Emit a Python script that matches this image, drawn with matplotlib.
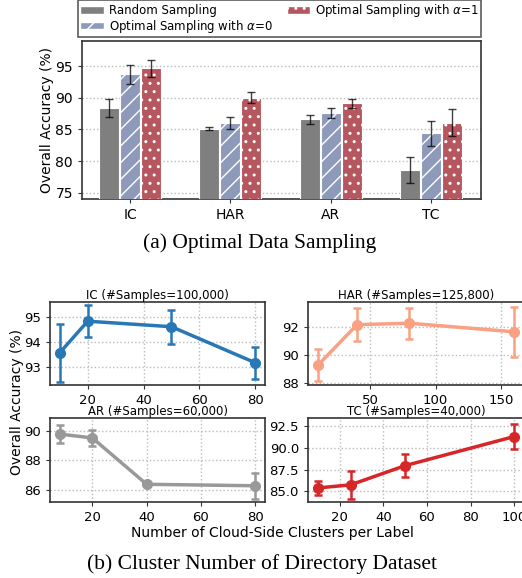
import matplotlib
matplotlib.use("Agg")
import matplotlib.pyplot as plt
from matplotlib.patches import Patch
import numpy as np

# (a) optimal data sampling: mean accuracy and std per task
tasks = ["IC", "HAR", "AR", "TC"]
random_acc = [88.4, 85.15, 86.6, 78.6]
random_err = [1.4, 0.25, 0.7, 2.1]
alpha0_acc = [93.75, 86.05, 87.65, 84.4]
alpha0_err = [1.5, 0.9, 0.8, 2.0]
alpha1_acc = [94.65, 90.05, 89.15, 86.05]
alpha1_err = [1.4, 0.9, 0.75, 2.15]

# (b) number of cloud-side clusters per label
ic_x = [10, 20, 50, 80]
ic_acc = [93.56, 94.82, 94.6, 93.16]
ic_err = [1.16, 0.64, 0.68, 0.64]
har_x = [10, 40, 80, 160]
har_acc = [89.26, 92.16, 92.26, 91.65]
har_err = [1.13, 1.2, 1.1, 1.78]
ar_x = [8, 20, 40, 80]
ar_acc = [89.78, 89.52, 86.38, 86.28]
ar_err = [0.59, 0.52, 0.05, 0.87]
tc_x = [10, 25, 50, 100]
tc_acc = [85.38, 85.74, 87.95, 91.3]
tc_err = [0.82, 1.6, 1.32, 1.45]

W, H = 522, 578
fig = plt.figure(figsize=(W / 100, H / 100), dpi=100)


def rect(l, t, r, b):
    return [l / W, 1 - b / H, (r - l) / W, (b - t) / H]


SPINE = "#333333"

# ---------- (a) bar chart ----------
ax = fig.add_axes(rect(82, 41, 481, 199))
x = np.arange(len(tasks))
w = 0.2
off = 0.21
ekw = dict(ecolor="black", elinewidth=1.0, capsize=3, capthick=1.0, alpha=0.75)
ax.bar(x - off, random_acc, w, color="#7f7f7f", edgecolor="white", linewidth=0.8,
       yerr=random_err, error_kw=ekw, zorder=3)
ax.bar(x, alpha0_acc, w, color="#8e9aba", edgecolor="white", linewidth=0.8, hatch="//",
       yerr=alpha0_err, error_kw=ekw, zorder=3)
ax.bar(x + off, alpha1_acc, w, color="#b6575f", edgecolor="white", linewidth=0.8, hatch="..",
       yerr=alpha1_err, error_kw=ekw, zorder=3)
ax.set_xlim(-0.48, 3.5)
ax.set_ylim(74, 99)
ax.set_yticks([75, 80, 85, 90, 95])
ax.set_xticks(x)
ax.set_xticklabels(tasks)
ax.tick_params(labelsize=10, length=3, color=SPINE)
ax.yaxis.grid(True, linestyle=":", color="#bbbbbb", linewidth=1.0, zorder=0)
ax.set_axisbelow(True)
ax.set_ylabel("Overall Accuracy (%)", fontsize=10, labelpad=1)
for s in ax.spines.values():
    s.set_color(SPINE)
    s.set_linewidth(1.2)

handles = [
    Patch(facecolor="#7f7f7f", edgecolor="white", label="Random Sampling"),
    Patch(facecolor="#8e9aba", edgecolor="white", hatch="//", label=r"Optimal Sampling with $\alpha$=0"),
    Patch(facecolor="#b6575f", edgecolor="white", hatch="..", label=r"Optimal Sampling with $\alpha$=1"),
]
leg = ax.legend(handles=handles, ncol=2, fontsize=8.5, loc="lower left",
                bbox_to_anchor=(-0.01, 1.025, 1.01, 0.2), mode="expand",
                fancybox=False, borderaxespad=0, handletextpad=0.4,
                labelspacing=0.05, borderpad=0.2, handleheight=0.6)
leg.get_frame().set_edgecolor(SPINE)
leg.get_frame().set_linewidth(1.2)

fig.text(260 / W, 1 - 243 / H, "(a) Optimal Data Sampling", family="Liberation Serif",
         fontsize=15.5, ha="center", va="center")

# ---------- (b) line charts ----------
panels = [
    (rect(50, 301.7, 265, 385), ic_x, ic_acc, ic_err, "#2878b5", "IC (#Samples=100,000)",
     [93, 94, 95], (92.27, 95.6), [20, 40, 60, 80]),
    (rect(308, 301.7, 524, 385), har_x, har_acc, har_err, "#f9a182", "HAR (#Samples=125,800)",
     [88, 90, 92], (87.85, 93.8), [50, 100, 150]),
    (rect(50, 418.3, 265, 501.7), ar_x, ar_acc, ar_err, "#999999", "AR (#Samples=60,000)",
     [86, 88, 90], (85.2, 90.85), [20, 40, 60, 80]),
    (rect(308, 418.3, 524, 501.7), tc_x, tc_acc, tc_err, "#d62728", "TC (#Samples=40,000)",
     [85.0, 87.5, 90.0, 92.5], (83.8, 93.4), [20, 40, 60, 80, 100]),
]
for r, xs, ys, es, col, title, yt, yl, xt in panels:
    a = fig.add_axes(r)
    a.errorbar(xs, ys, yerr=es, color=col, linewidth=2.5, marker="o", markersize=7,
               elinewidth=1.8, capsize=3, capthick=1.8, zorder=3)
    a.set_title(title, fontsize=8.5, pad=1.5)
    a.set_yticks(yt)
    if yt[0] == 85.0:
        a.set_yticklabels([f"{v:.1f}" for v in yt])
    a.set_ylim(*yl)
    a.set_xticks(xt)
    a.tick_params(labelsize=9.5, length=3, color=SPINE)
    a.grid(True, linestyle=":", color="#bbbbbb", linewidth=1.0, zorder=0)
    a.set_axisbelow(True)
    for s in a.spines.values():
        s.set_color(SPINE)
        s.set_linewidth(1.2)

fig.text(17 / W, 1 - 402 / H, "Overall Accuracy (%)", rotation=90, fontsize=10,
         ha="center", va="center")
fig.text(272 / W, 1 - 533 / H, "Number of Cloud-Side Clusters per Label", fontsize=10,
         ha="center", va="center")
fig.text(262 / W, 1 - 564 / H, "(b) Cluster Number of Directory Dataset",
         family="Liberation Serif", fontsize=15.5, ha="center", va="center")

fig.savefig("out.png", dpi=100)
